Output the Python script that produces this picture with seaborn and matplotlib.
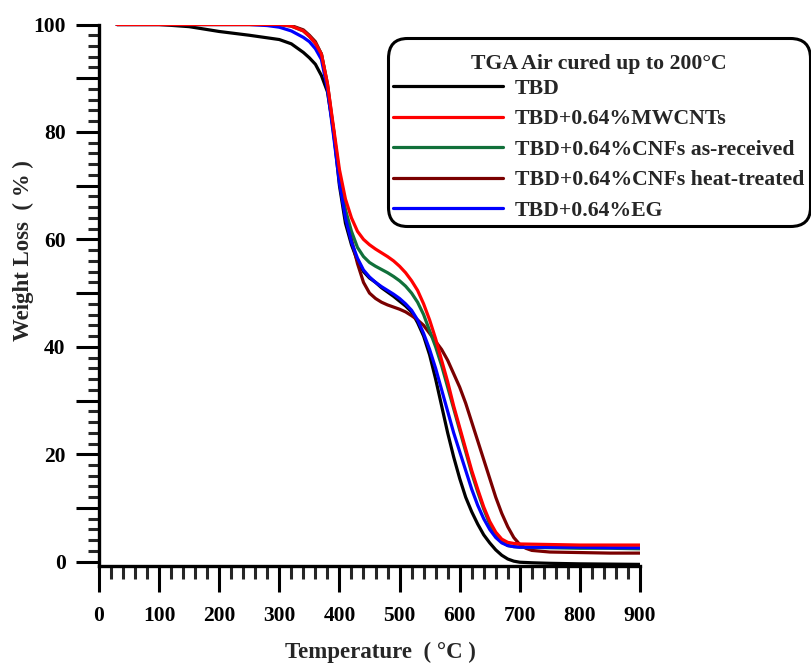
import matplotlib
matplotlib.use("Agg")
import matplotlib.pyplot as plt
from matplotlib.ticker import MultipleLocator, FuncFormatter
from matplotlib.offsetbox import PaddedBox
import seaborn as sns
import pandas as pd

# ---------------- data ----------------
t_tbd = [30, 100, 150, 200, 250, 300, 320, 340, 350, 360, 370, 380, 390, 400, 410, 420, 430, 440, 450,
         460, 470, 480, 490, 500, 510, 520, 530, 540, 550, 560, 570, 580, 590, 600, 610, 620, 630, 640,
         650, 660, 670, 680, 690, 700, 720, 750, 800, 850, 900]
w_tbd = [100, 100, 99.6, 98.7, 98.0, 97.2, 96.4, 94.8, 93.8, 92.6, 90.5, 87.5, 80.5, 70, 63, 59, 56, 54,
         52.8, 52, 51, 50.2, 49.4, 48.5, 47.6, 46.5, 44.5, 42, 38.5, 34, 29, 24, 19.5, 15.5, 12, 9.3, 7,
         5, 3.5, 2.2, 1.2, 0.5, 0.1, -0.1, -0.2, -0.3, -0.4, -0.45, -0.5]

t_mw = [30, 100, 200, 300, 320, 340, 350, 360, 370, 380, 390, 400, 410, 420, 430, 440, 450, 460, 470,
        480, 490, 500, 510, 520, 530, 540, 550, 560, 570, 580, 590, 600, 610, 620, 630, 640, 650, 660,
        670, 680, 690, 700, 750, 800, 850, 900]
w_mw = [100, 100, 100, 100, 99.7, 98.8, 97.8, 96.5, 94.5, 89, 81, 73, 67.5, 64, 61.5, 60, 59, 58.2, 57.5,
        56.8, 56, 55, 53.8, 52.3, 50.5, 48, 45, 41.5, 37.5, 33.5, 29, 25, 21, 17, 13.5, 10.2, 7.5, 5.5,
        4.2, 3.6, 3.4, 3.3, 3.2, 3.1, 3.1, 3.1]

t_cnf = [30, 100, 200, 300, 320, 340, 350, 360, 370, 380, 390, 400, 410, 420, 430, 440, 450, 460, 470,
         480, 490, 500, 510, 520, 530, 540, 550, 560, 570, 580, 590, 600, 610, 620, 630, 640, 650, 660,
         670, 680, 690, 700, 750, 800, 850, 900]
w_cnf = [100, 100, 100, 100, 99.7, 98.8, 97.8, 96.5, 94.5, 88.5, 80, 71.5, 65.5, 61.5, 58.5, 56.8, 55.7,
         55, 54.4, 53.8, 53.1, 52.3, 51.3, 50, 48.3, 46, 43, 40, 36.5, 32.5, 28.5, 24.5, 20.5, 16.5, 13,
         9.8, 7, 5, 3.7, 3.0, 2.8, 2.7, 2.6, 2.5, 2.5, 2.4]

t_ht = [30, 100, 200, 300, 320, 340, 350, 360, 370, 380, 390, 400, 410, 420, 430, 440, 450, 460, 470,
        480, 490, 500, 510, 520, 530, 540, 550, 560, 570, 580, 590, 600, 610, 620, 630, 640, 650, 660,
        670, 680, 690, 700, 710, 720, 750, 800, 850, 900]
w_ht = [100, 100, 100, 100, 99.8, 99, 98, 96.8, 94.5, 89, 80.5, 72, 65, 60, 55.5, 52, 50, 49, 48.3,
        47.8, 47.4, 47, 46.5, 45.8, 45, 44, 42.5, 41, 39.5, 37.5, 35, 32.5, 29.5, 26, 22.5, 19, 15.5, 12,
        9, 6.5, 4.5, 3.2, 2.5, 2.1, 1.8, 1.7, 1.6, 1.6]

t_eg = [30, 100, 200, 250, 280, 300, 320, 340, 350, 360, 370, 380, 390, 400, 410, 420, 430, 440, 450,
        460, 470, 480, 490, 500, 510, 520, 530, 540, 550, 560, 570, 580, 590, 600, 610, 620, 630, 640,
        650, 660, 670, 680, 690, 700, 750, 800, 850, 900]
w_eg = [100, 100, 100, 100, 99.8, 99.5, 98.8, 97.6, 96.8, 95.5, 93.5, 88, 79.5, 70.5, 64, 59.5, 56.5,
        54.3, 53, 52, 51.2, 50.5, 49.8, 49, 48, 46.8, 45, 42.5, 39.5, 36, 32, 28, 24, 20.5, 17, 13.5,
        10.5, 8, 6, 4.5, 3.5, 3.0, 2.8, 2.7, 2.7, 2.7, 2.6, 2.6]

labels = ["TBD", "TBD+0.64%MWCNTs", "TBD+0.64%CNFs as-received",
          "TBD+0.64%CNFs heat-treated", "TBD+0.64%EG"]
colors = ["#000000", "#FF0000", "#11703A", "#7A0000", "#0000FF"]

series = [(t_tbd, w_tbd), (t_mw, w_mw), (t_cnf, w_cnf), (t_ht, w_ht), (t_eg, w_eg)]
frames = []
for lab, (t, w) in zip(labels, series):
    frames.append(pd.DataFrame({"T": t, "W": w, "Sample": lab}))
df = pd.concat(frames, ignore_index=True)

# ---------------- style ----------------
sns.set_style("ticks")
plt.rcParams["font.family"] = ["Liberation Serif", "DejaVu Serif"]
plt.rcParams["font.weight"] = "bold"

fig = plt.figure(figsize=(8.12, 6.64), dpi=100)
ax = fig.add_axes([0.1219, 0.1476, 0.6663, 0.8155])

sns.lineplot(data=df, x="T", y="W", hue="Sample", hue_order=labels,
             palette=dict(zip(labels, colors)), estimator=None, sort=False,
             linewidth=2.3, ax=ax)

# drawing order: red on top
zord = {"TBD": 2.1, "TBD+0.64%MWCNTs": 2.6, "TBD+0.64%CNFs as-received": 2.3,
        "TBD+0.64%CNFs heat-treated": 2.2, "TBD+0.64%EG": 2.4}
for line, lab in zip(ax.lines, labels):
    line.set_zorder(zord[lab])

ax.set_xlim(0, 900)
ax.set_ylim(-0.8, 100)

ax.xaxis.set_major_locator(MultipleLocator(100))
ax.xaxis.set_minor_locator(MultipleLocator(20))
ax.yaxis.set_major_locator(MultipleLocator(10))
ax.yaxis.set_minor_locator(MultipleLocator(2))
ax.yaxis.set_major_formatter(FuncFormatter(lambda v, p: f"{int(round(v))}" if int(round(v)) % 20 == 0 else ""))

for s in ["top", "right"]:
    ax.spines[s].set_visible(False)
for s in ["left", "bottom"]:
    ax.spines[s].set_linewidth(2.4)
    ax.spines[s].set_color("black")

ax.tick_params(axis="x", which="major", direction="out", length=19, width=2.2, pad=10,
               labelsize=15.5, colors="black")
ax.tick_params(axis="x", which="minor", direction="out", length=9.5, width=2.2)
ax.tick_params(axis="y", which="major", direction="out", length=16.5, width=2.2, pad=7.5,
               labelsize=15.5, colors="black")
ax.tick_params(axis="y", which="minor", direction="out", length=8, width=2.2)
for lbl in ax.get_xticklabels() + ax.get_yticklabels():
    lbl.set_fontweight("bold")

ax.set_xlabel("Temperature  ( \u00b0C )", fontsize=16.5, fontweight="bold")
ax.set_ylabel("Weight Loss  ( % )", fontsize=16.5, fontweight="bold")
ax.xaxis.set_label_coords(0.521, -0.159)
ax.xaxis.label.set_va("center")
ax.yaxis.set_label_coords(-0.140, 0.582)
ax.yaxis.label.set_va("center")

leg_fs = 15.7
handles, labs = ax.get_legend_handles_labels()
leg = ax.legend(handles, labs, title="TGA Air cured up to 200\u00b0C",
                loc="upper right", bbox_to_anchor=(0.9975, 0.9428), bbox_transform=fig.transFigure,
                borderaxespad=0, frameon=True, fancybox=True,
                prop={"weight": "bold", "size": leg_fs},
                title_fontproperties={"weight": "bold", "size": leg_fs},
                handlelength=5.05, handletextpad=0.55, labelspacing=0.47,
                borderpad=0.25, alignment="center")
# extra room above the title, tight gap below it
try:
    title_pad = 7.6
    leg._legend_box._children[0] = PaddedBox(leg._legend_title_box, pad=title_pad)
    leg._legend_box.sep = 3.2 - title_pad
except Exception:
    pass
frame = leg.get_frame()
frame.set_edgecolor("black")
frame.set_linewidth(2.2)
frame.set_alpha(1)
frame.set_boxstyle("round,pad=0,rounding_size=0.9")
for h in leg.get_lines():
    h.set_linewidth(2.3)

fig.savefig("out.png", dpi=100, facecolor="white")
